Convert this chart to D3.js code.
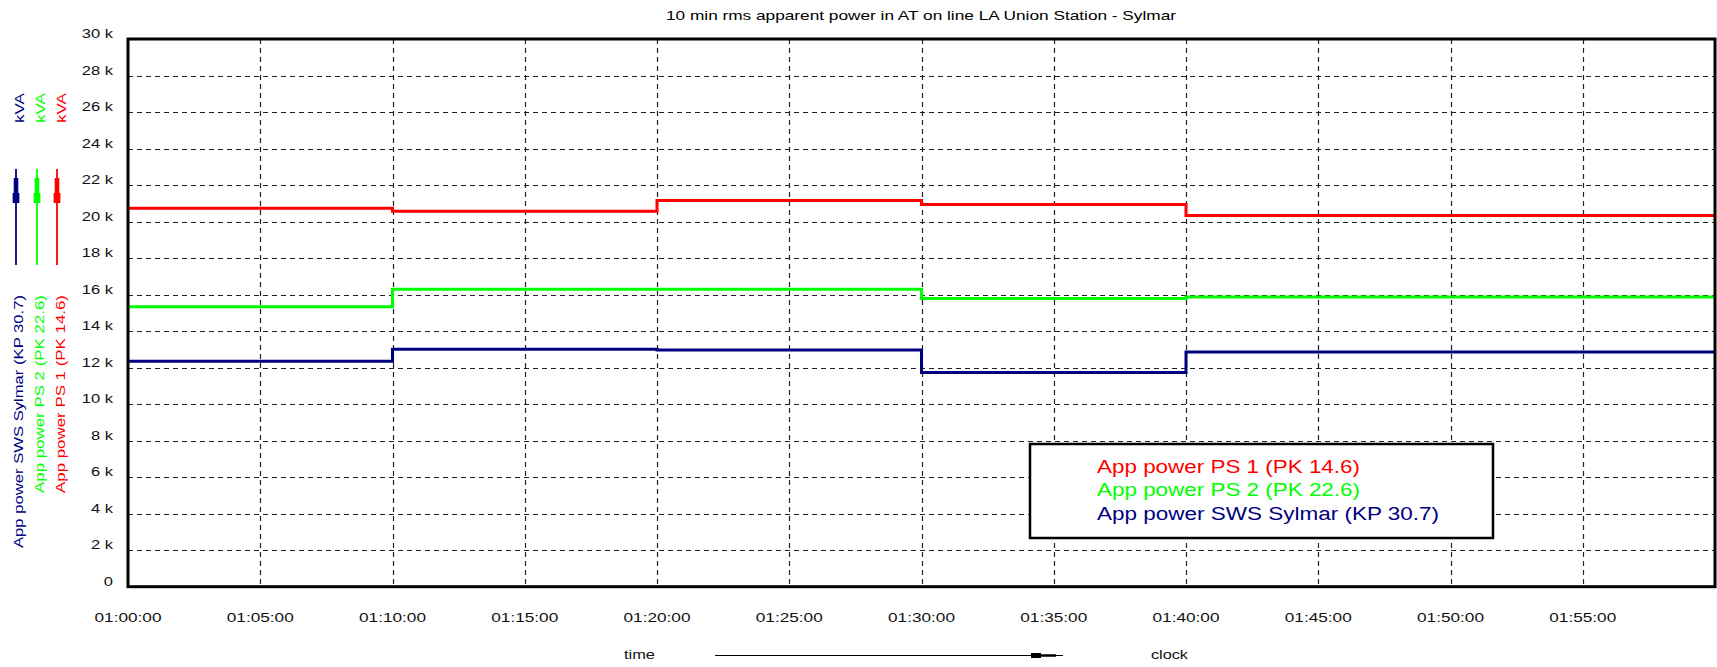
<!DOCTYPE html>
<html>
<head>
<meta charset="utf-8">
<script src="https://cdn.jsdelivr.net/npm/d3@7"></script>
<style>
  html, body { margin: 0; padding: 0; background: #fff; }
  svg { display: block; font-family: "Liberation Sans", Arial, sans-serif; }
</style>
</head>
<body>
<svg id="chart" width="1717" height="667"></svg>
<script>
// ---- data ----
const title = "10 min rms apparent power in AT on line LA Union Station - Sylmar";
const times = ["01:00:00", "01:10:00", "01:20:00", "01:30:00", "01:40:00", "01:50:00", "02:00:00"];
const ps1 = [20730, 20560, 21160, 20930, 20330, 20330, 20330];
const ps2 = [15330, 16290, 16290, 15790, 15870, 15870, 15870];
const sws = [12350, 13010, 12960, 11730, 12850, 12850, 12850];
const seriesNames = ["App power PS 1 (PK 14.6)", "App power PS 2 (PK 22.6)", "App power SWS Sylmar (KP 30.7)"];
const seriesColors = ["#ff0000", "#00ff00", "#000080"];
const unit = "kVA";
const yTicks = [0, 2000, 4000, 6000, 8000, 10000, 12000, 14000, 16000, 18000, 20000, 22000, 24000, 26000, 28000, 30000];
const xAxisLeftLabel = "time";
const xAxisRightLabel = "clock";

// ---- setup ----
const svg = d3.select("#chart");
const parseT = d3.utcParse("%H:%M:%S");
const L = 128, R = 1715, T = 39, B = 586.7;

const x = d3.scaleUtc().domain([parseT("01:00:00"), parseT("02:00:00")]).range([L, R]);
const y = d3.scaleLinear().domain([0, 30000]).range([B, T]);

function stretch(sel, k) {
  sel.each(function () {
    const w = this.getComputedTextLength();
    d3.select(this).attr("textLength", w * k).attr("lengthAdjust", "spacingAndGlyphs");
  });
}
function fixLen(sel, w) {
  sel.attr("textLength", w).attr("lengthAdjust", "spacingAndGlyphs");
}

// title
fixLen(svg.append("text").attr("x", 666).attr("y", 19.5).attr("font-size", 13)
  .attr("fill", "#000").text(title), 510);

// grid
const xTickVals = d3.utcMinute.every(5).range(parseT("01:00:00"), parseT("02:00:00"));
const grid = svg.append("g").attr("stroke", "#222").attr("stroke-width", 1.2).attr("stroke-dasharray", "5,4");
grid.selectAll("line.h").data(yTicks.filter(d => d > 0 && d < 30000)).join("line")
  .attr("x1", L).attr("x2", R).attr("y1", d => Math.round(y(d)) + 0.5).attr("y2", d => Math.round(y(d)) + 0.5);
grid.selectAll("line.v").data(xTickVals.slice(1)).join("line")
  .attr("y1", T).attr("y2", B).attr("x1", d => Math.round(x(d)) + 0.5).attr("x2", d => Math.round(x(d)) + 0.5);

// y axis labels
const fmtY = d => d === 0 ? "0" : (d / 1000) + " k";
svg.append("g").selectAll("text").data(yTicks).join("text")
  .attr("x", 113).attr("y", d => y(d) - 1).attr("text-anchor", "end")
  .attr("font-size", 13).attr("fill", "#111").text(fmtY)
  .call(stretch, 1.27);

// x axis labels
const fmtX = d3.utcFormat("%H:%M:%S");
svg.append("g").selectAll("text").data(xTickVals).join("text")
  .attr("x", d => x(d)).attr("y", 622).attr("text-anchor", "middle")
  .attr("font-size", 13).attr("fill", "#111").text(fmtX)
  .call(fixLen, 67);

// series lines
const allSeries = [ps1, ps2, sws];
const line = d3.line().x(d => x(d.t)).y(d => y(d.v)).curve(d3.curveStepAfter);
allSeries.forEach((vals, i) => {
  const data = times.map((t, j) => ({ t: parseT(t), v: vals[j] }));
  svg.append("path").datum(data).attr("d", line)
    .attr("fill", "none").attr("stroke", seriesColors[i]).attr("stroke-width", 3);
});

// legend box
svg.append("rect").attr("x", 1030).attr("y", 444).attr("width", 463).attr("height", 94)
  .attr("fill", "#fff").attr("stroke", "#000").attr("stroke-width", 2.5);
const legLens = [263, 263, 342];
seriesNames.forEach((n, i) => {
  svg.append("text").attr("x", 1097).attr("y", 473 + i * 23.4)
    .attr("font-size", 18).attr("fill", seriesColors[i]).text(n)
    .call(fixLen, legLens[i]);
});

// plot border
svg.append("rect").attr("x", L).attr("y", T).attr("width", R - L).attr("height", B - T)
  .attr("fill", "none").attr("stroke", "#000").attr("stroke-width", 3);

// left rotated legend: order blue, green, red from left
const leftOrder = [2, 1, 0];
const symX = [16, 37, 57];
const labX = [23, 44, 64.5];
const labLens = { 0: 198, 1: 198, 2: 253 };
leftOrder.forEach((si, k) => {
  const c = seriesColors[si];
  const g = svg.append("g");
  // unit label
  g.append("text").attr("transform", `translate(${labX[k] + 1},93) rotate(-90)`)
    .attr("text-anchor", "end").attr("font-size", 13).attr("fill", c).text(unit)
    .call(fixLen, 30);
  // symbol
  const sx = symX[k];
  g.append("line").attr("x1", sx).attr("x2", sx).attr("y1", 169).attr("y2", 265)
    .attr("stroke", c).attr("stroke-width", 1.8);
  g.append("rect").attr("x", sx - 2.3).attr("y", 178).attr("width", 4.6).attr("height", 16).attr("fill", c);
  g.append("rect").attr("x", sx - 3.4).attr("y", 193).attr("width", 6.8).attr("height", 10).attr("fill", c);
  // series name
  g.append("text").attr("transform", `translate(${labX[k]},295) rotate(-90)`)
    .attr("text-anchor", "end").attr("font-size", 13).attr("fill", c).text(seriesNames[si])
    .call(fixLen, labLens[si]);
});

// bottom: time ---> clock
svg.append("text").attr("x", 624).attr("y", 659).attr("font-size", 13).attr("fill", "#111")
  .text(xAxisLeftLabel).call(fixLen, 31);
svg.append("text").attr("x", 1151).attr("y", 659).attr("font-size", 13).attr("fill", "#111")
  .text(xAxisRightLabel).call(fixLen, 37);
svg.append("line").attr("x1", 715).attr("x2", 1063).attr("y1", 655.5).attr("y2", 655.5)
  .attr("stroke", "#000").attr("stroke-width", 1);
svg.append("rect").attr("x", 1031).attr("y", 653).attr("width", 10).attr("height", 5).attr("fill", "#000");
svg.append("line").attr("x1", 1041).attr("x2", 1056).attr("y1", 655.5).attr("y2", 655.5)
  .attr("stroke", "#000").attr("stroke-width", 2.5);
</script>
</body>
</html>
